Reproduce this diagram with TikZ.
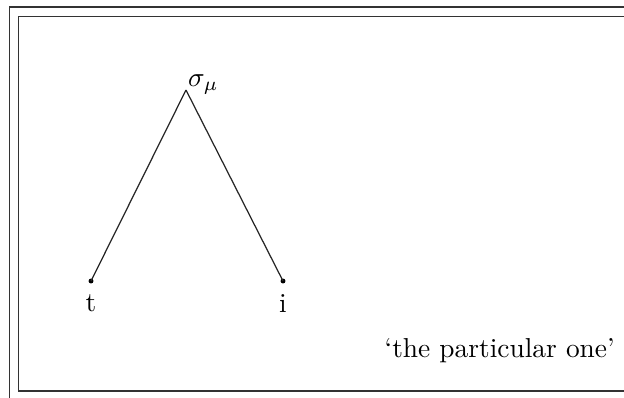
\documentclass[tikz,border=0pt]{standalone}
\usepackage{tikz}
\usetikzlibrary{positioning}
\tikzset{
  frm/.style={draw=black!80, line width=0.55pt},
  edge/.style={draw=black!85, line width=0.45pt},
  leaf/.style={circle, fill=black, inner sep=0pt, minimum size=1.8pt},
  lbl/.style={font=\normalsize, inner sep=1pt},
}

\begin{document}
\begin{tikzpicture}[x=0.365pt, y=-0.365pt]

%% ── Page and frames ─────────────────────────────────────────────────────────
\useasboundingbox (0,0) rectangle (624,397);
\clip (0,0) rectangle (624,397);
\draw[frm] (9.5,7) rectangle (660,430);
\draw[frm] (18.5,16.5) rectangle (650,391);

%% ── Tree nodes ───────────────────────────────────────────────────────────────
\coordinate (top) at (186,90);
\node[leaf] (t) at ( 91,281) {};
\node[leaf] (i) at (283,281) {};

\node[lbl, anchor=base west] (sig) at ([xshift=-0.4pt,yshift=1.2pt]top) {$\sigma_\mu$};
\node[lbl, below=2.5pt of t] (tl) {t};
\node[lbl, below=2.5pt of i] (il) {i};

%% ── Branches ─────────────────────────────────────────────────────────────────
\draw[edge] (top) -- (t.center);
\draw[edge] (top) -- (i.center);

%% ── Gloss ────────────────────────────────────────────────────────────────────
\node[lbl, anchor=base east] (gloss) at (618,357) {`the particular one'};

\end{tikzpicture}
\end{document}
